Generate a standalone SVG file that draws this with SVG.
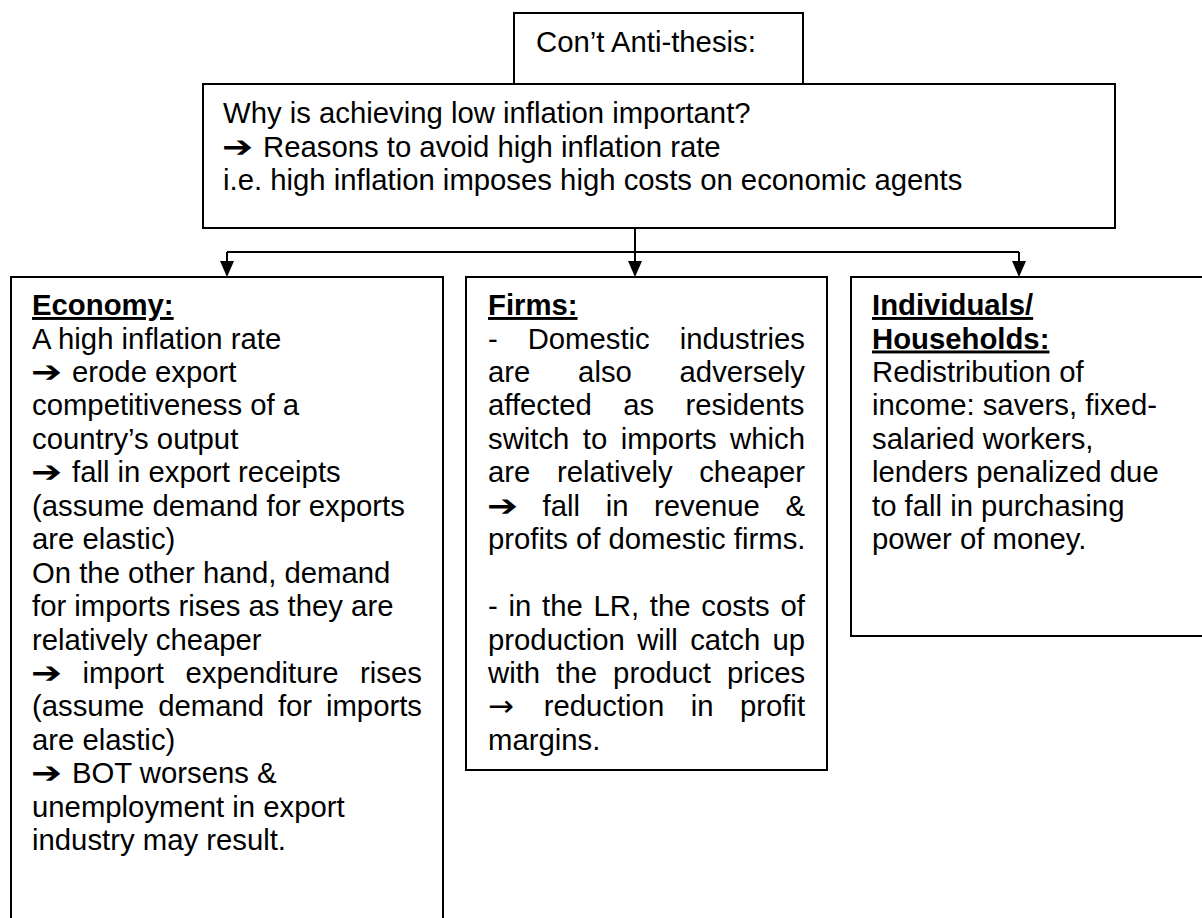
<svg xmlns="http://www.w3.org/2000/svg" width="1202" height="918" viewBox="0 0 1202 918">
<style>
.box{fill:#fff;stroke:#000;stroke-width:2}
.t{font-family:"Liberation Sans",Arial,sans-serif;font-size:29.3px;fill:#000}
.h{font-weight:bold;text-decoration:underline}
.ar{font-family:"DejaVu Sans",sans-serif;font-size:30px;font-weight:bold;fill:#000}
.sa{font-family:"DejaVu Sans",sans-serif;font-size:29.3px;fill:#000}
.con{fill:none;stroke:#000;stroke-width:2}
</style>
<defs>
<marker id="ah" viewBox="0 0 16 14" markerWidth="16" markerHeight="14" refX="9" refY="7" orient="auto" markerUnits="userSpaceOnUse">
<path d="M0,0 L16,7 L0,14 z" fill="#000"/>
</marker>
</defs>
<rect width="1202" height="918" fill="#fff"/>
<g id="top">
<rect class="box" x="514" y="13" width="289" height="71"/>
<text class="t" x="536" y="52">Con’t Anti-thesis:</text>
</g>
<g id="main">
<rect class="box" x="203" y="84" width="912" height="144"/>
<text class="t" x="223" y="123">Why is achieving low inflation important?</text>
<text class="ar" x="222" y="157" textLength="31" lengthAdjust="spacingAndGlyphs">➔</text>
<text class="t" x="263" y="157">Reasons to avoid high inflation rate</text>
<text class="t" x="223" y="190">i.e. high inflation imposes high costs on economic agents</text>
</g>
<g id="connectors">
<path class="con" d="M635,228 V270" marker-end="url(#ah)"/>
<path class="con" d="M227,252 H1019"/>
<path class="con" d="M227,252 V270" marker-end="url(#ah)"/>
<path class="con" d="M1019,252 V270" marker-end="url(#ah)"/>
</g>
<g id="economy">
<rect class="box" x="11" y="277" width="432" height="700"/>
<text class="t h" x="32" y="315">Economy:</text>
<text class="t" x="32" y="348.5">A high inflation rate</text>
<text class="ar" x="31" y="381.9" textLength="31" lengthAdjust="spacingAndGlyphs">➔</text>
<text class="t" x="72" y="381.9">erode export</text>
<text class="t" x="32" y="415.4">competitiveness of a</text>
<text class="t" x="32" y="448.8">country’s output</text>
<text class="ar" x="31" y="482.3" textLength="31" lengthAdjust="spacingAndGlyphs">➔</text>
<text class="t" x="72" y="482.3">fall in export receipts</text>
<text class="t" x="32" y="515.7">(assume demand for exports</text>
<text class="t" x="32" y="549.2">are elastic)</text>
<text class="t" x="32" y="582.6">On the other hand, demand</text>
<text class="t" x="32" y="616.1">for imports rises as they are</text>
<text class="t" x="32" y="649.5">relatively cheaper</text>
<text class="ar" x="31" y="683" textLength="31" lengthAdjust="spacingAndGlyphs">➔</text>
<text class="t" x="82.5" y="683" style="word-spacing:13.4px">import expenditure rises</text>
<text class="t" x="32" y="716.4" style="word-spacing:5.7px">(assume demand for imports</text>
<text class="t" x="32" y="749.9">are elastic)</text>
<text class="ar" x="31" y="783.3" textLength="31" lengthAdjust="spacingAndGlyphs">➔</text>
<text class="t" x="72" y="783.3">BOT worsens &amp;</text>
<text class="t" x="32" y="816.8">unemployment in export</text>
<text class="t" x="32" y="850.2">industry may result.</text>
</g>
<g id="firms">
<rect class="box" x="466" y="277" width="361" height="493"/>
<text class="t h" x="488" y="315">Firms:</text>
<text class="t" x="488" y="348.5" style="word-spacing:21.75px">- Domestic industries</text>
<text class="t" x="488" y="381.9" style="word-spacing:39.6px">are also adversely</text>
<text class="t" x="488" y="415.4" style="word-spacing:23.3px">affected as residents</text>
<text class="t" x="488" y="448.8" style="word-spacing:5.27px">switch to imports which</text>
<text class="t" x="488" y="482.3" style="word-spacing:18.5px">are relatively cheaper</text>
<text class="ar" x="487" y="515.7" textLength="31" lengthAdjust="spacingAndGlyphs">➔</text>
<text class="t" x="542.6" y="515.7" style="word-spacing:17.45px">fall in revenue &amp;</text>
<text class="t" x="488" y="549.2">profits of domestic firms.</text>
<text class="t" x="488" y="616.1" style="word-spacing:2.6px">- in the LR, the costs of</text>
<text class="t" x="488" y="649.5" style="word-spacing:4.2px">production will catch up</text>
<text class="t" x="488" y="683" style="word-spacing:8px">with the product prices</text>
<text class="sa" x="488" y="716.4" textLength="26" lengthAdjust="spacingAndGlyphs">→</text>
<text class="t" x="543.7" y="716.4" style="word-spacing:18.3px">reduction in profit</text>
<text class="t" x="488" y="749.9">margins.</text>
</g>
<g id="individuals">
<rect class="box" x="851" y="277" width="400" height="359"/>
<text class="t h" x="872" y="315">Individuals/</text>
<text class="t h" x="872" y="348.5">Households:</text>
<text class="t" x="872" y="381.9">Redistribution of</text>
<text class="t" x="872" y="415.4">income: savers, fixed-</text>
<text class="t" x="872" y="448.8">salaried workers,</text>
<text class="t" x="872" y="482.3">lenders penalized due</text>
<text class="t" x="872" y="515.7">to fall in purchasing</text>
<text class="t" x="872" y="549.2">power of money.</text>
</g>
</svg>
